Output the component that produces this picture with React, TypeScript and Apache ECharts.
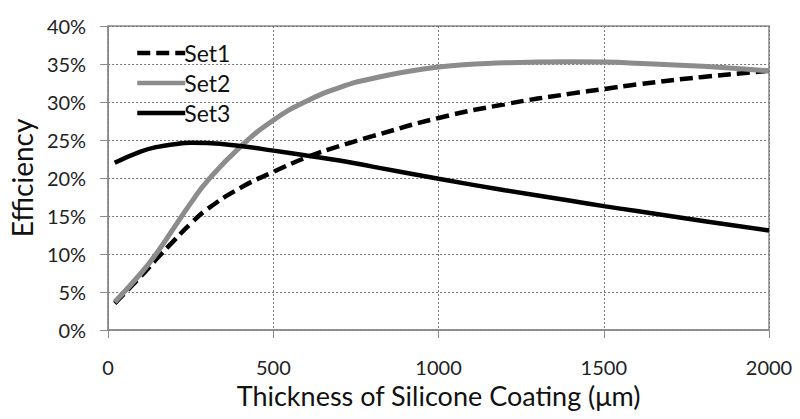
import React, { useEffect, useRef } from "react";
import * as echarts from "echarts";

const thickness = [20, 100, 150, 200, 250, 300, 400, 500, 600, 700, 800, 1000, 1200, 1400, 1500, 1600, 1800, 2000];
const set1 = [3.5, 7.1, 9.5, 11.8, 14.0, 15.9, 18.7, 20.8, 22.7, 24.2, 25.5, 27.9, 29.7, 31.1, 31.7, 32.3, 33.3, 34.1];
const set2 = [3.7, 7.5, 10.3, 13.5, 16.7, 19.6, 24.1, 27.6, 30.1, 31.9, 33.1, 34.6, 35.15, 35.3, 35.25, 35.1, 34.7, 34.1];
const set3 = [22.0, 23.5, 24.1, 24.45, 24.65, 24.6, 24.2, 23.6, 22.95, 22.3, 21.5, 19.9, 18.4, 17.0, 16.3, 15.65, 14.35, 13.1];
const seriesNames = ["Set1", "Set2", "Set3"];
const xAxisTitle = "Thickness of Silicone Coating (\u03bcm)";
const yAxisTitle = "Efficiency";

const FONT = "Lato, 'Open Sans', sans-serif";

export default function App() {
  const ref = useRef<HTMLDivElement>(null);
  useEffect(() => {
    if (!ref.current) return;
    const chart = echarts.init(ref.current, undefined, { renderer: "svg" });
    const pairs = (ys: number[]) => thickness.map((x, i) => [x, ys[i]]);
    chart.setOption({
      animation: false,
      backgroundColor: "#ffffff",
      textStyle: { fontFamily: FONT },
      grid: {
        left: 99,
        right: 31,
        top: 26,
        bottom: 89,
        show: true,
        borderColor: "#8a8a8a",
        borderWidth: 1.5,
      },
      legend: {
        orient: "vertical",
        left: 130,
        top: 36,
        itemWidth: 48,
        itemHeight: 14,
        itemGap: 6,
        itemStyle: { opacity: 0 },
        lineStyle: { width: 4.5 },
        textStyle: { fontSize: 23, color: "#111", fontFamily: FONT, lineHeight: 24, padding: [0, 0, 0, -6] },
        data: seriesNames,
      },
      xAxis: {
        type: "value",
        min: 0,
        max: 2000,
        interval: 500,
        name: xAxisTitle,
        nameLocation: "middle",
        nameGap: 47,
        nameTextStyle: { fontSize: 27, color: "#111", fontFamily: FONT },
        axisLine: { show: true, lineStyle: { color: "#8a8a8a", width: 1.5 } },
        axisTick: { show: true, length: 8, inside: false, lineStyle: { color: "#8a8a8a", width: 1 } },
        axisLabel: { fontSize: 20, color: "#222", margin: 27, fontFamily: FONT, formatter: (v: number) => String(v) },
        splitLine: { show: true, lineStyle: { color: "#777", type: [2, 2], width: 1 } },
      },
      yAxis: {
        type: "value",
        min: 0,
        max: 40,
        interval: 5,
        name: yAxisTitle,
        nameLocation: "middle",
        nameGap: 70,
        nameTextStyle: { fontSize: 28, color: "#111", fontFamily: FONT },
        axisLine: { show: true, lineStyle: { color: "#8a8a8a", width: 1.5 } },
        axisTick: { show: true, length: 8, inside: false, lineStyle: { color: "#8a8a8a", width: 1 } },
        axisLabel: { fontSize: 20, color: "#222", margin: 22, fontFamily: FONT, formatter: (v: number) => `${v}%` },
        splitLine: { show: true, lineStyle: { color: "#777", type: [2, 2], width: 1 } },
      },
      series: [
        {
          name: seriesNames[0],
          type: "line",
          smooth: 0.5,
          symbol: "none",
          data: pairs(set1),
          lineStyle: { color: "#000", width: 4.5, type: [13, 6] },
          itemStyle: { color: "#000" },
        },
        {
          name: seriesNames[1],
          type: "line",
          smooth: 0.5,
          symbol: "none",
          data: pairs(set2),
          lineStyle: { color: "#8c8c8c", width: 5 },
          itemStyle: { color: "#8c8c8c" },
        },
        {
          name: seriesNames[2],
          type: "line",
          smooth: 0.5,
          symbol: "none",
          data: pairs(set3),
          lineStyle: { color: "#000", width: 4.5 },
          itemStyle: { color: "#000" },
        },
      ],
    });
    return () => chart.dispose();
  }, []);
  return <div ref={ref} style={{ width: 800, height: 419, position: "fixed", left: 0, top: 0 }} />;
}
